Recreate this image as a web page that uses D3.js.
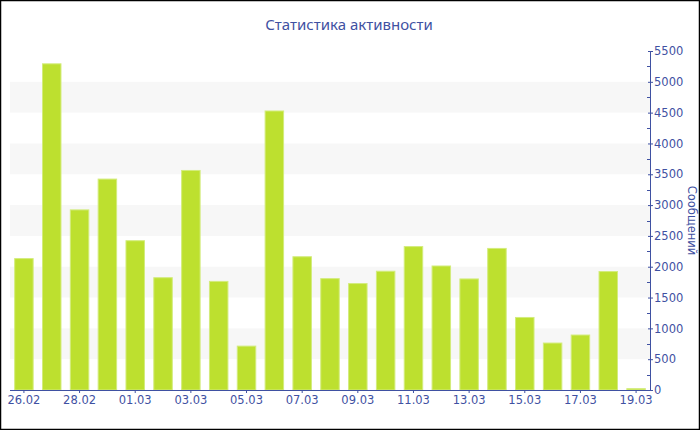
<!DOCTYPE html>
<html><head><meta charset="utf-8">
<script src="https://cdn.jsdelivr.net/npm/d3@7"></script>
<style>html,body{margin:0;padding:0;background:#fff}svg{display:block}</style>
</head><body>
<svg id="c" width="700" height="430"></svg>
<script>
const categories = ["26.02","27.02","28.02","29.02","01.03","02.03","03.03","04.03","05.03","06.03","07.03","08.03","09.03","10.03","11.03","12.03","13.03","14.03","15.03","16.03","17.03","18.03","19.03"];
const messages = [2140,5300,2930,3430,2430,1830,3570,1770,720,4535,2170,1815,1735,1935,2335,2020,1810,2305,1185,770,900,1930,30];
const yTicks = [0,500,1000,1500,2000,2500,3000,3500,4000,4500,5000,5500];
const titleText = "Статистика активности";
const yTitle = "Сообщений";

const blue = "#3f51a2";
const font = "DejaVu Sans, Verdana, sans-serif";
const svg = d3.select("#c");
const x = d3.scaleBand().domain(categories).range([10, 650]).paddingInner(0.3).paddingOuter(0.15);
const y = d3.scaleLinear().domain([0, 5500]).range([390, 51]);

// alternating bands
const bands = [];
for (let i = 1; i < yTicks.length - 1; i += 2) bands.push([yTicks[i], yTicks[i + 1]]);
svg.append("g").selectAll("rect").data(bands).join("rect")
  .attr("x", 10).attr("width", 640)
  .attr("y", d => y(d[1])).attr("height", d => y(d[0]) - y(d[1]))
  .attr("fill", "#f7f7f7");

// bars
svg.append("g").selectAll("rect").data(categories).join("rect")
  .attr("x", d => x(d) + 0.5)
  .attr("width", x.bandwidth() - 1)
  .attr("y", (d, i) => y(messages[i]) + 0.5)
  .attr("height", (d, i) => Math.max(0, y(0) - y(messages[i]) - 0.5))
  .attr("fill", "#bde02f")
  .attr("stroke", "#d3ec7c").attr("stroke-width", 1);

// x axis
const xAxis = d3.axisBottom(x)
  .tickValues(categories.filter((d, i) => i % 2 === 0))
  .tickSize(3).tickSizeOuter(0).tickPadding(3);
const gx = svg.append("g").attr("transform", "translate(0,390)").call(xAxis);
gx.select(".domain").attr("stroke", blue).attr("d", "M10,0.5H650");
gx.selectAll(".tick line").attr("stroke", blue);
gx.selectAll(".tick text").attr("fill", blue).attr("font-family", font).attr("font-size", 11.5);

// y axis (right)
const yAxis = d3.axisRight(y).tickValues(yTicks).tickFormat(d3.format("d"))
  .tickSize(3).tickSizeOuter(0).tickPadding(1);
const gy = svg.append("g").attr("transform", "translate(650,0)").call(yAxis);
gy.select(".domain").attr("stroke", blue);
gy.selectAll(".tick line").attr("stroke", blue).attr("x1", -2).attr("x2", 3);
gy.selectAll(".tick text").attr("fill", blue).attr("font-family", font).attr("font-size", 11.5);
// minor ticks
const minor = yTicks.slice(0, -1).map(v => v + 250);
gy.append("g").selectAll("line").data(minor).join("line")
  .attr("x1", -3).attr("x2", 0)
  .attr("y1", d => Math.round(y(d)) + 0.5).attr("y2", d => Math.round(y(d)) + 0.5)
  .attr("stroke", blue);

// y axis title
svg.append("text")
  .attr("transform", `translate(688,${(y(0) + y(5500)) / 2}) rotate(90)`)
  .attr("text-anchor", "middle")
  .attr("fill", blue).attr("font-family", font).attr("font-size", 11.5)
  .text(yTitle);

// title
svg.append("text")
  .attr("x", 349).attr("y", 30)
  .attr("text-anchor", "middle")
  .attr("fill", blue).attr("font-family", "Noto Sans, DejaVu Sans, sans-serif").attr("font-size", 15)
  .text(titleText);

// frame
svg.append("rect").attr("x", 0.5).attr("y", 0.5).attr("width", 699).attr("height", 429)
  .attr("fill", "none").attr("stroke", "#000").attr("stroke-width", 1.5);
</script>
</body></html>
